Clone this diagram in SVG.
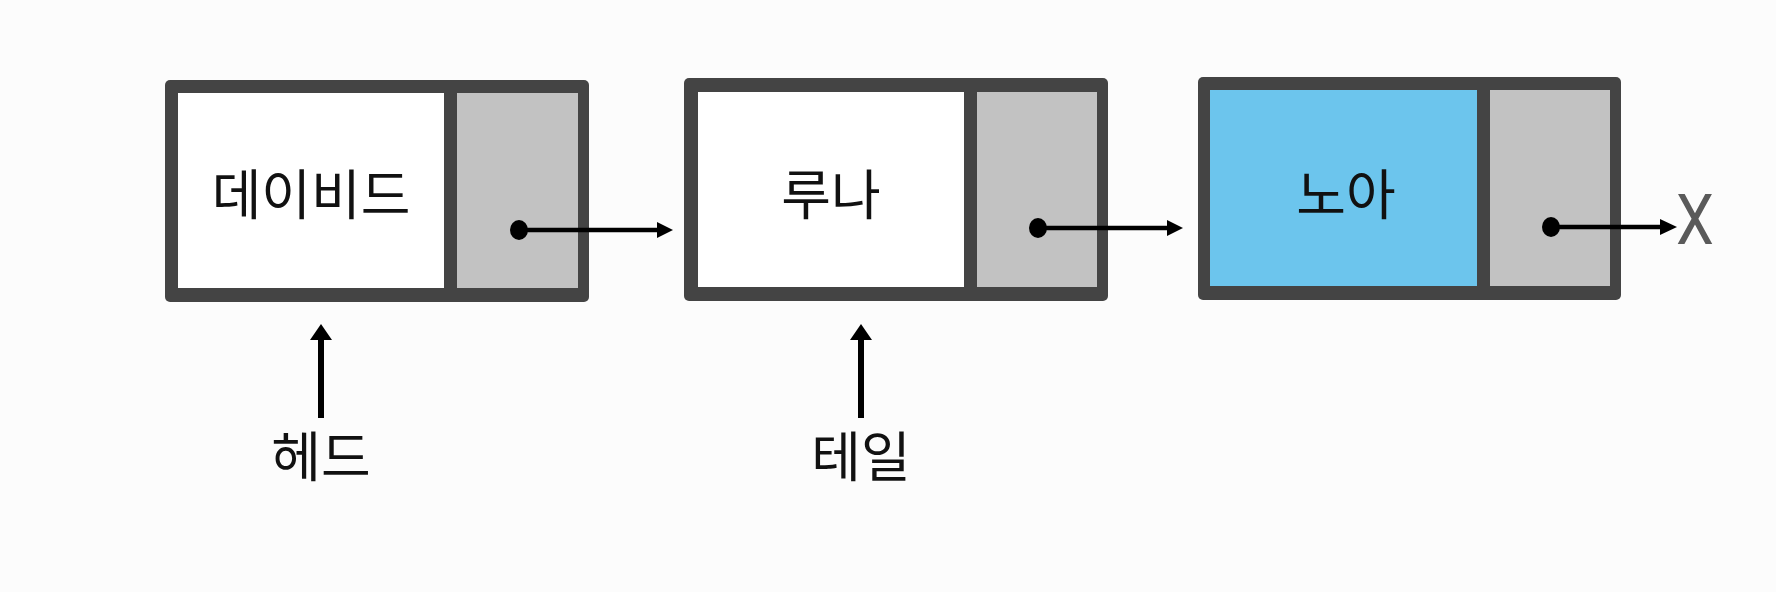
<svg xmlns="http://www.w3.org/2000/svg" width="1776" height="592" viewBox="0 0 1776 592">
  <style>
    .frame { fill: #444444; }
    .white { fill: #ffffff; }
    .blue { fill: #6cc5ed; }
    .ptr { fill: #c2c2c2; }
    .lbl { font-family: "Noto Sans CJK KR", "Noto Sans", sans-serif; font-size: 54px; fill: #111111; text-anchor: middle; dominant-baseline: central; }
    .link { stroke: #000000; stroke-width: 4.5; fill: none; }
    .up { stroke: #000000; stroke-width: 6; fill: none; }
    .head { fill: #000000; }
    .dot { fill: #000000; }
  </style>
  <rect width="1776" height="592" fill="#fcfcfc"/>

  <g id="node-david">
    <rect class="frame" x="165" y="80" width="424" height="222" rx="5"/>
    <rect class="white" x="178" y="93" width="266" height="195"/>
    <rect class="ptr" x="457" y="93" width="121" height="195"/>
    <text class="lbl" x="311" y="191">데이비드</text>
  </g>

  <g id="node-luna">
    <rect class="frame" x="684" y="78" width="424" height="223" rx="5"/>
    <rect class="white" x="698" y="92" width="266" height="195"/>
    <rect class="ptr" x="977" y="92" width="120" height="195"/>
    <text class="lbl" x="831" y="191">루나</text>
  </g>

  <g id="node-noah">
    <rect class="frame" x="1198" y="77" width="423" height="223" rx="5"/>
    <rect class="blue" x="1210" y="90" width="267" height="196"/>
    <rect class="ptr" x="1490" y="90" width="120" height="196"/>
    <text class="lbl" x="1346" y="191">노아</text>
  </g>

  <g id="null-x">
    <text x="1695" y="244" font-family="Roboto, 'Liberation Sans', sans-serif" font-weight="400" font-size="71" fill="#5a5a5a" text-anchor="middle" transform="translate(1695 0) scale(0.85 1) translate(-1695 0)">X</text>
  </g>

  <g id="label-head">
    <text class="lbl" x="321" y="453">헤드</text>
  </g>
  <g id="label-tail">
    <text class="lbl" x="861" y="453">테일</text>
  </g>

  <g id="connectors">
    <ellipse class="dot" cx="519" cy="230" rx="9" ry="10"/>
    <line class="link" x1="519" y1="230" x2="659" y2="230"/>
    <polygon class="head" points="657,222 673,230 657,238"/>

    <ellipse class="dot" cx="1038" cy="228" rx="9" ry="10"/>
    <line class="link" x1="1038" y1="228" x2="1169" y2="228"/>
    <polygon class="head" points="1167,220 1183,228 1167,236"/>

    <ellipse class="dot" cx="1551" cy="227" rx="9" ry="10"/>
    <line class="link" x1="1551" y1="227" x2="1662" y2="227"/>
    <polygon class="head" points="1660,219 1677,227 1660,235"/>

    <line class="up" x1="321" y1="338" x2="321" y2="418"/>
    <polygon class="head" points="310,340 321,324 332,340"/>

    <line class="up" x1="861" y1="338" x2="861" y2="418"/>
    <polygon class="head" points="850,340 861,324 872,340"/>
  </g>
</svg>
